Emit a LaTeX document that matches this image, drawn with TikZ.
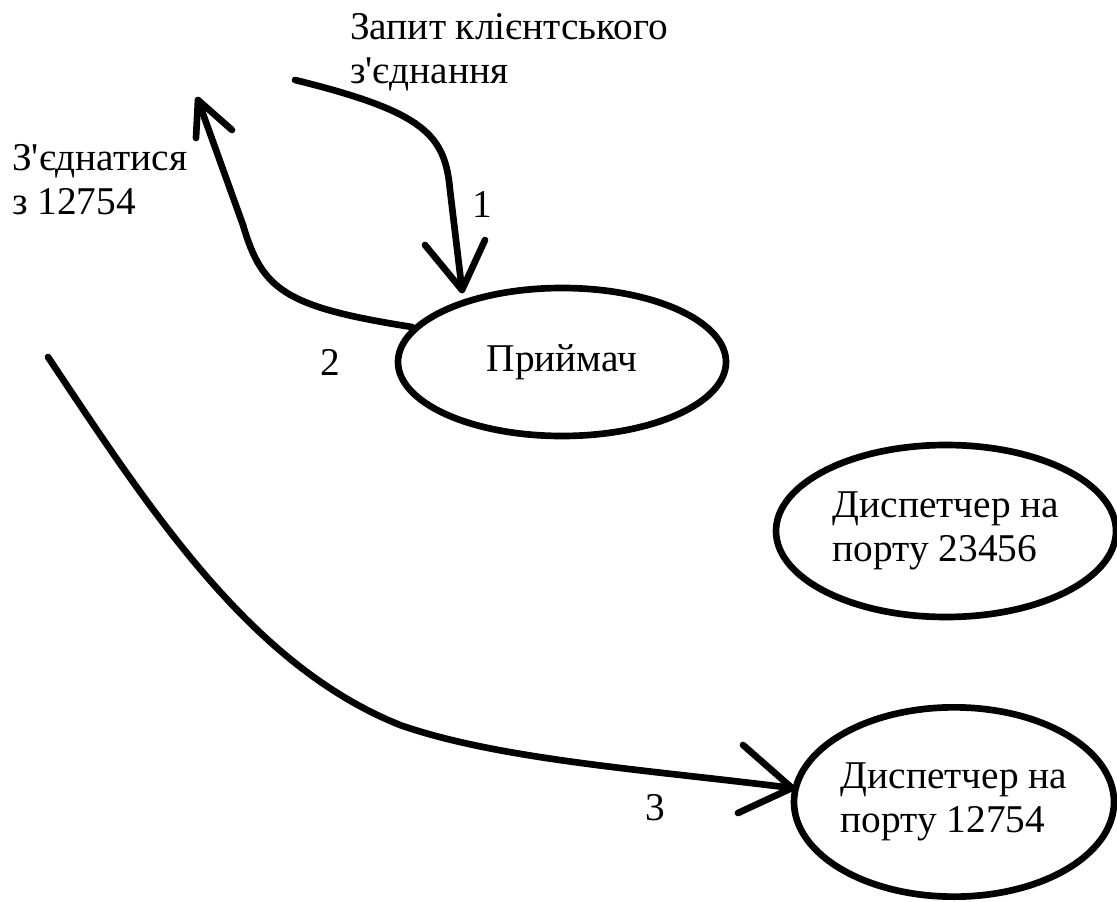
\documentclass[tikz,border=0pt]{standalone}
\usepackage{fontspec}
\setmainfont{Liberation Serif}[Ligatures=TeXOff]
\usetikzlibrary{shapes.geometric}
\begin{document}
\begin{tikzpicture}[x=0.75pt,y=-0.75pt,
  stroke/.style={line width=5pt,line cap=round,line join=round},
  oval/.style={ellipse,draw,line width=5pt,inner sep=0pt,align=left,
    font=\fontsize{29.5}{33}\selectfont},
  lbl/.style={inner sep=0pt,font=\fontsize{29.5}{33}\selectfont},
  txt/.style={inner sep=0pt,anchor=west,align=left,font=\fontsize{29.5}{33}\selectfont}]
\useasboundingbox (0,0) rectangle (1117,902);

% processes
\node[oval,minimum width=246pt,minimum height=111pt] (recv) at (562,362) {Приймач};
\node[oval,minimum width=255pt,minimum height=129pt] (d1) at (946,531) {Диспетчер на\\порту 23456};
\node[oval,minimum width=238pt,minimum height=142pt] (d2) at (954,802) {Диспетчер на\\порту 12754};

% free ends and tips
\coordinate (s1) at (295,80);
\coordinate (t1) at (462,290);
\coordinate (s2) at (412,327);
\coordinate (t2) at (198,100);
\coordinate (s3) at (48,357);
\coordinate (t3) at (792,788);

% 1: client request into the acceptor
\draw[stroke] (s1) .. controls (425,112) and (445,135) .. (450,190) -- (t1);
\draw[stroke] (425,245) -- (t1) -- (485,240);
% 2: reply back to the client
\draw[stroke] (s2) .. controls (285,307) and (262,290) .. (243,225) -- (t2);
\draw[stroke] (196,138) -- (t2) -- (232,130);
% 3: client connects to the new dispatcher
\draw[stroke] (s3) .. controls (150,510) and (250,665) .. (400,725)
  .. controls (500,760) and (650,770) .. (t3);
\draw[stroke] (743,745) -- (t3) -- (738,813);

% labels
\node[txt] (q) at (350,52) {Запит клієнтського\\з'єднання};
\node[txt] (c) at (12,180) {З'єднатися\\з 12754};
\node[lbl] (n1) at (482,205) {1};
\node[lbl] (n2) at (330,362) {2};
\node[lbl] (n3) at (655,808) {3};
\end{tikzpicture}
\end{document}
